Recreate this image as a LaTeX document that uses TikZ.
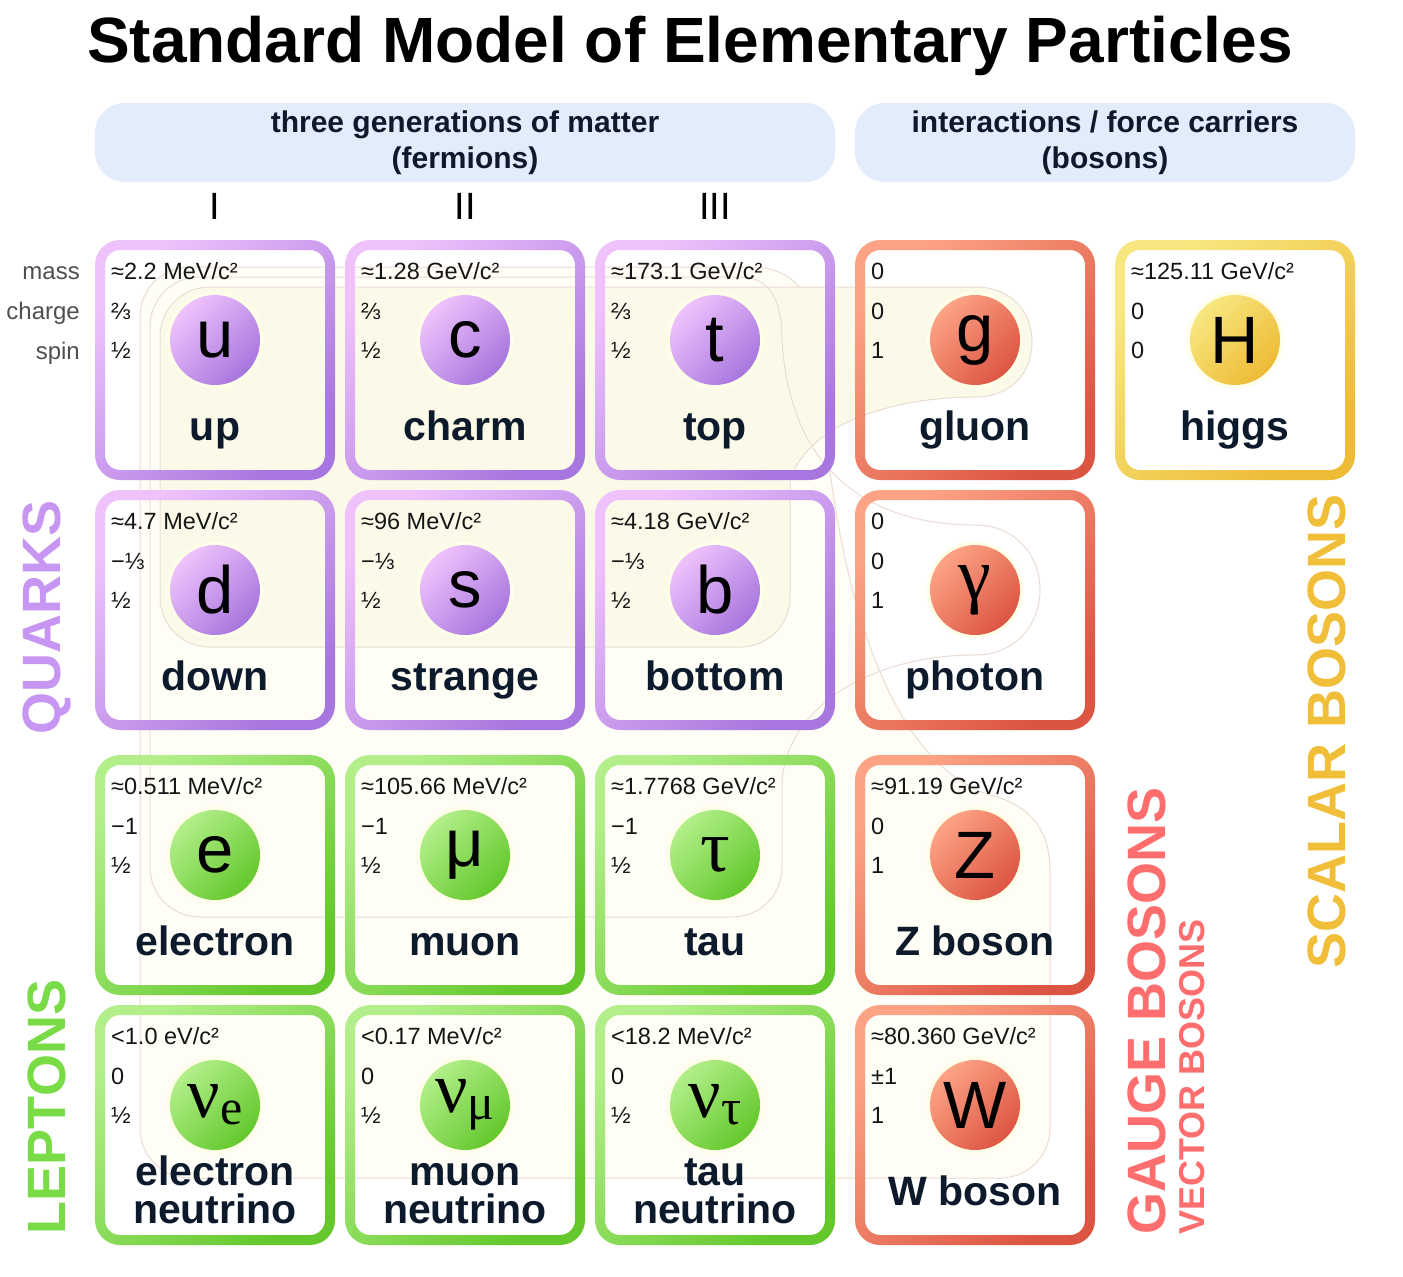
\documentclass[tikz,border=0pt]{standalone}
\usepackage{fontspec}
\setmainfont{Liberation Sans}
\newfontfamily\greekfont{Liberation Serif}
\usetikzlibrary{positioning}

\definecolor{quarklight}{HTML}{EFC2FC}
\definecolor{quarkdark}{HTML}{A776DE}
\definecolor{leptonlight}{HTML}{B2EF8A}
\definecolor{leptondark}{HTML}{64C82C}
\definecolor{gaugelight}{HTML}{FDA385}
\definecolor{gaugedark}{HTML}{DC5543}
\definecolor{higgslight}{HTML}{F8E781}
\definecolor{higgsdark}{HTML}{EDBB35}
\definecolor{headfill}{HTML}{E3ECFB}
\definecolor{nametext}{HTML}{0C1A2C}
\definecolor{proptext}{HTML}{151515}
\definecolor{labgray}{HTML}{4F4F4F}
\definecolor{bgline}{HTML}{EBDCD3}
\definecolor{weakfill}{HTML}{FEFDF6}
\definecolor{strongfill}{HTML}{FBFAE9}
\definecolor{quarkcol}{HTML}{C795F2}
\definecolor{leptoncol}{HTML}{79DC46}
\definecolor{gaugecol}{HTML}{FF6E6E}
\definecolor{scalarcol}{HTML}{F0BE39}

\newcommand{\grk}[1]{{\greekfont\fontsize{74}{74}\selectfont #1}}
\newcommand{\nusym}[1]{{\greekfont\fontsize{72}{72}\selectfont ν\raisebox{-7pt}{\fontsize{50}{50}\selectfont #1}}}

% one particle card: [name baseline]{id}{top left}{family}{mass}{charge}{spin}{symbol}{name}
\newcommand{\particle}[9][200]{%
  \begin{scope}[shift={(#3)}]
    \shade[frame=#4, even odd rule] (0,0) [rounded corners=25pt] rectangle (240,240)
      (10,10) [rounded corners=15pt] rectangle (230,230);
    \fill[halo] (120,100) circle (48.5pt);
    \shade[frame=#4] (120,100) circle (45pt);
    \node[prop] (#2-mass) at (16,39) {#5};
    \node[prop] (#2-charge) at (16,79) {#6};
    \node[prop] (#2-spin) at (16,118) {#7};
    \node[psym] (#2-sym) at (120,100) {#8};
    \node[pname] (#2-name) at (120,#1) {#9};
  \end{scope}}

\tikzset{
  frame/.style={top color=#1light, bottom color=#1dark, shading angle=45},
  halo/.style={fill=white!85!yellow!60!white},
  prop/.style={anchor=base west, inner sep=0pt, text=proptext,
    font=\fontsize{23.5}{26}\selectfont},
  psym/.style={inner sep=0pt, font=\fontsize{67}{67}\selectfont},
  pname/.style={anchor=base, inner sep=0pt, align=center, text=nametext,
    font=\fontsize{41}{38}\selectfont\bfseries},
  sidelab/.style={anchor=base east, inner sep=0pt, text=labgray,
    font=\fontsize{24}{26}\selectfont},
  headbox/.style={fill=headfill, rounded corners=30pt, minimum height=79pt,
    inner sep=0pt, align=center, text=nametext,
    font=\fontsize{30}{36}\selectfont\bfseries},
  gen/.style={inner sep=0pt, font=\fontsize{38}{38}\selectfont},
  group/.style={rotate=90, inner sep=0pt, font=\fontsize{54}{54}\selectfont\bfseries},
  zone/.style={draw=bgline, line width=1pt},
}

\begin{document}
\begin{tikzpicture}[x=1pt, y=-1pt]
  \useasboundingbox (0,0) rectangle (1403,1277);
  \fill[white] (0,0) rectangle (1403,1277);

  % faint interaction zones
  \path[zone, fill=weakfill] (190,267) -- (750,267)
    .. controls (800,267) and (815,300) .. (820,360)
    .. controls (830,560) and (880,760) .. (990,795)
    .. controls (1030,805) and (1050,830) .. (1050,870) -- (1050,1128)
    .. controls (1050,1156) and (1028,1178) .. (1000,1178) -- (190,1178)
    .. controls (162,1178) and (140,1156) .. (140,1128) -- (140,317)
    .. controls (140,289) and (162,267) .. cycle;
  \path[zone, fill=strongfill] (210,287) -- (975,287)
    .. controls (1010,287) and (1032,310) .. (1032,342)
    .. controls (1032,374) and (1010,397) .. (975,397)
    .. controls (900,397) and (810,420) .. (790,480) -- (790,597)
    .. controls (790,625) and (768,647) .. (740,647) -- (210,647)
    .. controls (182,647) and (160,625) .. (160,597) -- (160,337)
    .. controls (160,309) and (182,287) .. cycle;
  \path[zone] (200,277) -- (740,277)
    .. controls (770,277) and (782,300) .. (782,340)
    .. controls (790,480) and (880,525) .. (975,525)
    .. controls (1015,525) and (1040,555) .. (1040,590)
    .. controls (1040,625) and (1015,655) .. (975,655)
    .. controls (880,655) and (790,700) .. (782,780) -- (782,867)
    .. controls (782,895) and (760,917) .. (732,917) -- (200,917)
    .. controls (172,917) and (150,895) .. (150,867) -- (150,327)
    .. controls (150,299) and (172,277) .. cycle;

  % title and headers
  \node[anchor=base, inner sep=0pt, font=\fontsize{64}{64}\selectfont\bfseries]
    (title) at (690,62) {Standard Model of Elementary Particles};
  \node[headbox, minimum width=740pt] (fermions) at (465,142.5)
    {three generations of matter\\(fermions)};
  \node[headbox, minimum width=500pt] (bosons) at (1105,142.5)
    {interactions / force carriers\\(bosons)};
  \node[gen] (gen1) at (215,206) {I};
  \node[gen] (gen2) at (465,206) {II};
  \node[gen] (gen3) at (715,206) {III};

  \node[sidelab] (masslab) at (80,279) {mass};
  \node[sidelab] (chargelab) at (80,319) {charge};
  \node[sidelab] (spinlab) at (80,359) {spin};

  % quarks
  \particle{up}{95,240}{quark}{≈2.2 MeV/c²}{⅔}{½}{u}{up}
  \particle{charm}{345,240}{quark}{≈1.28 GeV/c²}{⅔}{½}{c}{charm}
  \particle{top}{595,240}{quark}{≈173.1 GeV/c²}{⅔}{½}{t}{top}
  \particle{down}{95,490}{quark}{≈4.7 MeV/c²}{−⅓}{½}{d}{down}
  \particle{strange}{345,490}{quark}{≈96 MeV/c²}{−⅓}{½}{s}{strange}
  \particle{bottom}{595,490}{quark}{≈4.18 GeV/c²}{−⅓}{½}{b}{bottom}
  % leptons
  \particle{electron}{95,755}{lepton}{≈0.511 MeV/c²}{−1}{½}{e}{electron}
  \particle{muon}{345,755}{lepton}{≈105.66 MeV/c²}{−1}{½}{μ}{muon}
  \particle{tau}{595,755}{lepton}{≈1.7768 GeV/c²}{−1}{½}{\grk{τ}}{tau}
  \particle[218]{enu}{95,1005}{lepton}{<1.0 eV/c²}{0}{½}{\nusym{e}}{electron\\neutrino}
  \particle[218]{munu}{345,1005}{lepton}{<0.17 MeV/c²}{0}{½}{\nusym{μ}}{muon\\neutrino}
  \particle[218]{taunu}{595,1005}{lepton}{<18.2 MeV/c²}{0}{½}{\nusym{τ}}{tau\\neutrino}
  % bosons
  \particle{gluon}{855,240}{gauge}{0}{0}{1}{g}{gluon}
  \particle{photon}{855,490}{gauge}{0}{0}{1}{\grk{γ}}{photon}
  \particle{zboson}{855,755}{gauge}{≈91.19 GeV/c²}{0}{1}{Z}{Z boson}
  \particle{wboson}{855,1005}{gauge}{≈80.360 GeV/c²}{±1}{1}{W}{W boson}
  \particle{higgs}{1115,240}{higgs}{≈125.11 GeV/c²}{0}{0}{H}{higgs}

  % group labels
  \node[group, text=quarkcol] (quarks) at (47,617) {QUARKS};
  \node[group, text=leptoncol] (leptons) at (47,1107) {LEPTONS};
  \node[group, text=gaugecol, anchor=west] (gauge) at (1147,1235) {GAUGE BOSONS};
  \node[group, text=gaugecol, anchor=west, font=\fontsize{36}{36}\selectfont\bfseries]
    (vector) at (1192,1235) {VECTOR BOSONS};
  \node[group, text=scalarcol] (scalar) at (1327,731) {SCALAR BOSONS};
\end{tikzpicture}
\end{document}
